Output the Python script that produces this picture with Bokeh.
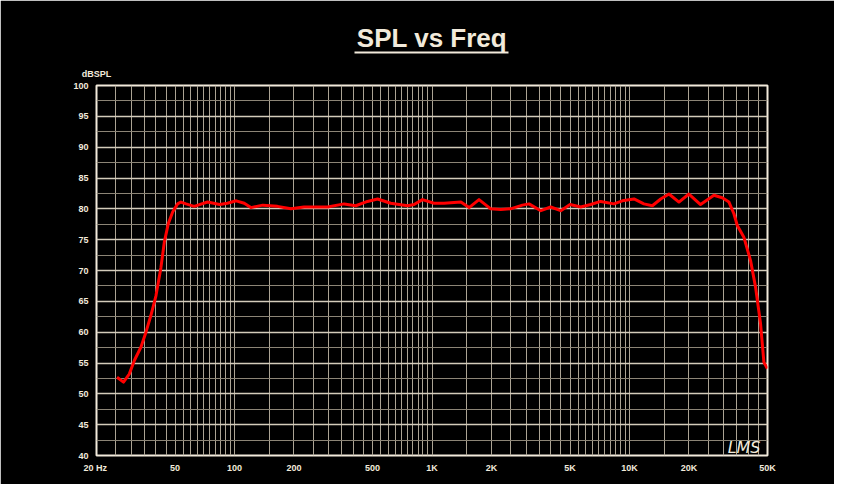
from bokeh.plotting import figure
from bokeh.models import Range1d, FixedTicker, Label, LogAxis
from bokeh.embed import file_html
from bokeh.resources import INLINE

# ---- data ----
freq = [25.4, 27.4, 29.3, 31.1, 33.6, 35.6, 37.7, 40, 42.4, 44.1, 46.2, 48.6,
        51.5, 53.5, 56.8, 62.5, 73, 84, 92, 102, 112, 121, 139, 165, 193, 225,
        296, 359, 411, 471, 530, 618, 752, 811, 895, 1024, 1150, 1400, 1541,
        1730, 1983, 2230, 2500, 2870, 3100, 3556, 3990, 4487, 5000, 5665, 6365,
        7148, 8345, 9200, 10540, 11830, 13060, 14390, 15850, 17800, 20000,
        22900, 26770, 29500, 31900, 33800, 35160, 37960, 41040, 43500, 46100,
        47950, 49900]
spl = [52.7, 51.9, 53.2, 55.4, 57.6, 60.0, 62.7, 65.9, 70.5, 74.6, 77.6, 79.5,
       80.8, 81.1, 80.8, 80.4, 81.1, 80.7, 80.9, 81.3, 80.9, 80.2, 80.6, 80.4,
       80.0, 80.3, 80.3, 80.8, 80.5, 81.2, 81.6, 80.9, 80.5, 80.7, 81.5, 80.9,
       80.9, 81.1, 80.2, 81.5, 80.0, 79.9, 80.0, 80.6, 80.8, 79.7, 80.3, 79.7,
       80.7, 80.3, 80.7, 81.2, 80.8, 81.3, 81.6, 80.8, 80.5, 81.6, 82.4, 81.1,
       82.4, 80.7, 82.2, 81.8, 81.1, 79.2, 77.3, 75.4, 71.6, 67.3, 61.4, 55.1,
       54.1]

x_tick_values = [20, 50, 100, 200, 500, 1000, 2000, 5000, 10000, 20000, 50000]
x_tick_labels = ["20  Hz", "50", "100", "200", "500", "1K", "2K", "5K", "10K", "20K", "50K"]
y_tick_values = [40, 45, 50, 55, 60, 65, 70, 75, 80, 85, 90, 95, 100]
y_tick_labels = ["40", "45", "50", "55", "60", "65", "70", "75", "80", "85", "90", "95", "100"]
y_unit_label = "dBSPL"
title_text = "SPL vs Freq"
logo_text = "LMS"

X_MIN, X_MAX = 20, 50000
Y_MIN, Y_MAX = 40, 100

# ---- styles ----
CREAM = "#f2eadb"
GRID_MAJOR = "#d4ccbb"
GRID_MINOR = "#8c8576"
GRID_X = "#aca494"
FONT = "Liberation Sans"
TITLE_UNDERLINE_BOUNDS = (406, 2447)   # decorative underline extent

p = figure(width=834, height=484, x_axis_type="log",
           x_range=Range1d(X_MIN, X_MAX), y_range=Range1d(Y_MIN, Y_MAX),
           output_backend="svg", toolbar_location=None,
           background_fill_color="black", border_fill_color="black",
           min_border_left=96, min_border_right=67,
           min_border_top=85, min_border_bottom=29)
p.title.visible = False
p.outline_line_color = CREAM
p.outline_line_width = 2

# grid positions: 5 Hz steps to 100, 50 Hz to 1K, 500 Hz to 10K, 5K to 50K
grid_x = ([20 + 5 * i for i in range(17)] + [100 + 50 * i for i in range(1, 19)]
          + [1000 + 500 * i for i in range(1, 19)] + [10000 + 5000 * i for i in range(1, 9)])
p.xgrid.ticker = FixedTicker(ticks=grid_x)
p.xgrid.grid_line_color = GRID_X
p.xgrid.grid_line_width = 1

y_major = list(range(Y_MIN, Y_MAX + 1, 5))
y_minor = [v + 2.5 for v in range(Y_MIN, Y_MAX, 5)]
p.ygrid.ticker = FixedTicker(ticks=y_major, minor_ticks=y_minor)
p.ygrid.grid_line_color = GRID_MAJOR
p.ygrid.grid_line_width = 1.5
p.ygrid.minor_grid_line_color = GRID_MINOR
p.ygrid.minor_grid_line_width = 1


def style_axis(ax, standoff):
    ax.axis_line_color = None
    ax.major_tick_line_color = None
    ax.minor_tick_line_color = None
    ax.major_tick_out = 0
    ax.minor_tick_out = 0
    ax.major_label_text_color = CREAM
    ax.major_label_text_font = FONT
    ax.major_label_text_font_style = "bold"
    ax.major_label_text_font_size = "9px"
    ax.major_label_standoff = standoff


style_axis(p.xaxis[0], 7)
style_axis(p.yaxis[0], 8)
p.xaxis.ticker = FixedTicker(ticks=x_tick_values)
p.xaxis.major_label_overrides = {v: l for v, l in zip(x_tick_values, x_tick_labels)}
p.yaxis.ticker = FixedTicker(ticks=y_tick_values)
p.yaxis.major_label_overrides = {v: l for v, l in zip(y_tick_values, y_tick_labels)}

# unit label "dBSPL" just above the top-left corner
unit_axis = LogAxis(ticker=FixedTicker(ticks=[X_MIN]),
                    major_label_overrides={X_MIN: y_unit_label})
style_axis(unit_axis, 7)
unit_axis.major_label_text_align = "left"
unit_axis.axis_label = " "
unit_axis.axis_label_text_font_size = "9px"
unit_axis.axis_label_standoff = 0
p.add_layout(unit_axis, "above")

# underlined title
title_axis = LogAxis(ticker=FixedTicker(ticks=[]), bounds=TITLE_UNDERLINE_BOUNDS,
                     axis_label=title_text)
title_axis.major_tick_out = 0
title_axis.minor_tick_out = 0
title_axis.major_label_standoff = 0
title_axis.major_tick_line_color = None
title_axis.minor_tick_line_color = None
title_axis.axis_line_color = CREAM
title_axis.axis_line_width = 2
title_axis.axis_label_standoff = 0
title_axis.axis_label_text_color = CREAM
title_axis.axis_label_text_font = FONT
title_axis.axis_label_text_font_style = "bold"
title_axis.axis_label_text_font_size = "26px"
p.add_layout(title_axis, "above")

p.line(freq, spl, line_color="#ff0000", line_width=3, line_join="round")

p.add_layout(Label(x=X_MAX, y=Y_MIN, text=logo_text, x_offset=-7, y_offset=8,
                   text_align="right", text_baseline="alphabetic",
                   text_color=CREAM, text_font="DejaVu Sans",
                   text_font_style="italic", text_font_size="16px"))

open("out.html", "w").write(file_html(p, INLINE))
